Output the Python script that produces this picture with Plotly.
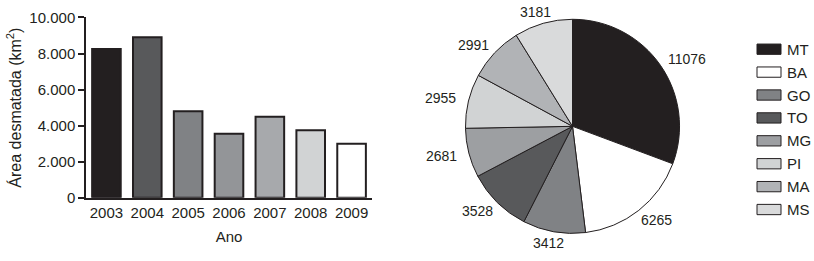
import math
import plotly.graph_objects as go

W, H = 814, 261

# Bar chart data
years = ["2003", "2004", "2005", "2006", "2007", "2008", "2009"]
area = [8250, 8900, 4800, 3550, 4500, 3750, 3000]
bar_colors = ["#231f20", "#58595b", "#808285", "#939598", "#a7a9ac", "#d1d3d4", "#ffffff"]
ytick_vals = [0, 2000, 4000, 6000, 8000, 10000]
ytick_text = ["0", "2.000", "4.000", "6.000", "8.000", "10.000"]

# Pie chart data
states = ["MT", "BA", "GO", "TO", "MG", "PI", "MA", "MS"]
state_vals = [11076, 6265, 3412, 3528, 2681, 2955, 2991, 3181]
pie_colors = ["#231f20", "#ffffff", "#808285", "#58595b", "#9d9fa2", "#d1d3d4", "#b1b3b6", "#d9dadb"]

FONT = "Liberation Sans, Arial, sans-serif"
INK = "#231f20"

fig = go.Figure()

fig.add_trace(go.Bar(
    x=years, y=area,
    marker=dict(color=bar_colors, line=dict(color=INK, width=2)),
    width=0.7, showlegend=False, xaxis="x", yaxis="y",
))

# pie geometry (pixels)
cx, cy, r = 572.5, 125.5, 107
rd = r * 1.07  # plotly draws the pie slightly inside its domain
fig.add_trace(go.Pie(
    labels=states, values=state_vals,
    marker=dict(colors=pie_colors, line=dict(color=INK, width=1)),
    sort=False, direction="clockwise", rotation=0,
    textinfo="none",
    showlegend=False,
    domain=dict(x=[(cx - rd) / W, (cx + rd) / W], y=[1 - (cy + rd) / H, 1 - (cy - rd) / H]),
    hoverinfo="label+value",
))

shapes = []
annotations = []

# value labels around the pie, placed at each slice's mid-angle
total = sum(state_vals)
cum = 0
fs = 14
for v in state_vals:
    mid = (cum + v / 2) / total * 2 * math.pi
    cum += v
    dx, dy = math.sin(mid), math.cos(mid)  # dy positive = up
    rr = r + 13
    px, py = cx + rr * dx, cy - rr * dy
    txt = str(v)
    w = len(txt) * 0.556 * fs
    h = fs
    tx, ty = px + dx * w / 2, py - dy * h / 2
    annotations.append(dict(text=txt, xref="paper", yref="paper",
                            x=tx / W, y=1 - ty / H, xanchor="center", yanchor="middle",
                            showarrow=False, font=dict(family=FONT, size=fs, color=INK)))

for i, (lab, col) in enumerate(zip(states, pie_colors)):
    y0 = 37.5 + i * 24.5
    shapes.append(dict(type="rect", xref="paper", yref="paper",
                       x0=757 / W, x1=781 / W, y0=1 - (y0 + 11) / H, y1=1 - y0 / H,
                       fillcolor=col, line=dict(color=INK, width=1)))
    annotations.append(dict(text=lab, xref="paper", yref="paper",
                            x=785 / W, y=1 - (y0 + 5.5) / H, xanchor="left", yanchor="middle",
                            showarrow=False, font=dict(family=FONT, size=15, color=INK)))

fig.update_layout(
    width=W, height=H,
    margin=dict(l=0, r=0, t=0, b=0),
    paper_bgcolor="white", plot_bgcolor="white",
    font=dict(family=FONT, size=15, color=INK),
    xaxis=dict(domain=[86 / W, 372 / W], range=[-0.5, 6.5], type="category",
               showline=True, linecolor=INK, linewidth=1.5, ticks="", showgrid=False,
               zeroline=False, tickfont=dict(size=15, color=INK),
               title=dict(text="Ano", font=dict(size=15, color=INK), standoff=12), anchor="y"),
    yaxis=dict(domain=[1 - 202 / H, 1 - 9 / H], range=[0, 10000],
               tickvals=ytick_vals, ticktext=ytick_text,
               showline=True, linecolor=INK, linewidth=1.5, ticks="outside", ticklen=6,
               tickcolor=INK, tickwidth=1.5, showgrid=False, zeroline=False,
               tickfont=dict(size=15, color=INK),
               title=dict(text="Área desmatada (km<sup>2</sup>)", font=dict(size=16, color=INK), standoff=4),
               anchor="x"),
    shapes=shapes, annotations=annotations,
)

fig.write_html("out.html")
